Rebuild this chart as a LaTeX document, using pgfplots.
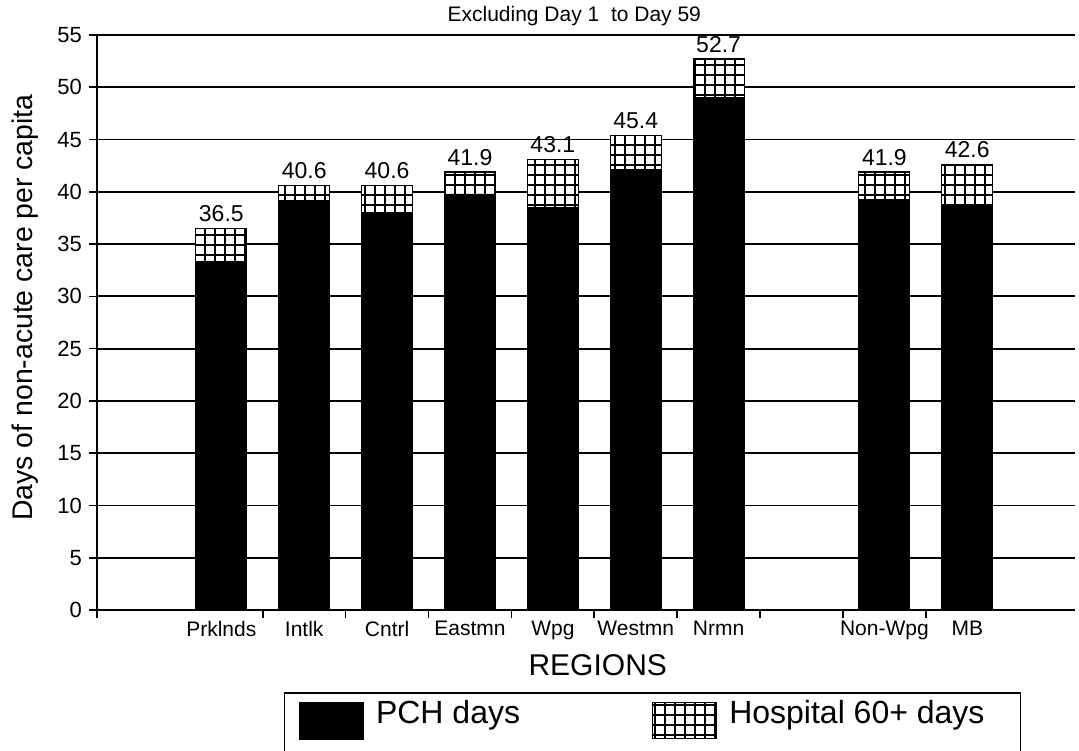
\documentclass[border=0pt]{standalone}
\usepackage{pgfplots}
\pgfplotsset{compat=1.18}
\usepackage{fontspec}
\setmainfont{Liberation Sans}
\usetikzlibrary{patterns}
\pgfdeclarepatternformonly{biggrid}{\pgfqpoint{-0.5pt}{-0.5pt}}{\pgfqpoint{5.5pt}{5.5pt}}{\pgfqpoint{5pt}{5pt}}{%
  \pgfsetlinewidth{0.8pt}%
  \pgfpathmoveto{\pgfqpoint{0pt}{2.5pt}}\pgfpathlineto{\pgfqpoint{5pt}{2.5pt}}%
  \pgfpathmoveto{\pgfqpoint{2.5pt}{0pt}}\pgfpathlineto{\pgfqpoint{2.5pt}{5pt}}%
  \pgfusepath{stroke}}
\pgfplotsset{boxlegend/.style={legend image code/.code={\draw[##1] (0pt,-12.5pt) rectangle (32pt,5.5pt);\path (0pt,-24pt) -- (36pt,-24pt);}}}
\begin{document}
\begin{tikzpicture}
\begin{axis}[
  name=ax,
  scale only axis,
  width=489pt, height=287.5pt,
  xmin=-0.5, xmax=11.3, ymin=0, ymax=55,
  ybar, bar width=25.5pt, bar shift=0pt,
  axis lines=left,
  axis line style={-, line width=1pt},
  ytick={0,5,10,15,20,25,30,35,40,45,50,55},
  ymajorgrids,
  grid style={black, line width=0.9pt},
  tick style={black, line width=0.8pt},
  tick align=outside,
  major tick length=4pt,
  xtick={-0.5,1.5,2.5,3.5,4.5,5.5,6.5,7.5,8.5,9.5},
  xticklabels={},
  extra x ticks={1,2,3,4,5,6,7,9,10},
  extra x tick labels={Prklnds,Intlk,Cntrl,Eastmn,Wpg,Westmn,Nrmn,Non-Wpg,MB},
  extra x tick style={major tick length=0pt, grid=none},
  xticklabel style={font=\fontsize{10.5}{12}\selectfont, yshift=-2pt},
  yticklabel style={font=\fontsize{11}{12}\selectfont},
  /pgf/number format/assume math mode=true,
  xlabel={REGIONS},
  xlabel style={font=\fontsize{15}{17}\selectfont, at={(axis description cs:0.512,0)}, anchor=center, yshift=-27.5pt},
  ylabel={Days of non-acute care per capita},
  ylabel style={font=\fontsize{14.2}{16}\selectfont, at={(axis description cs:-0.0736,0.526)}, anchor=center},
  title={Excluding Day 1\ \ to Day 59},
  title style={font=\fontsize{10.5}{12}\selectfont, at={(axis description cs:0.488,1)}, anchor=south, yshift=-5pt},
  boxlegend,
  legend columns=2,
  reverse legend,
  legend style={at={(axis description cs:0.191,-0.1426)}, anchor=north west,
    font=\fontsize{16}{19}\selectfont, draw=black, line width=0.75pt,
    inner xsep=7pt, inner ysep=2pt,
    /tikz/every even column/.append style={column sep=64pt}},
]
% total (PCH + Hospital 60+ days)
\addplot[draw=black, line width=0.6pt, preaction={fill=white}, pattern=biggrid,
  nodes near coords,
  nodes near coords style={font=\fontsize{11.5}{13}\selectfont, text=black, anchor=south, inner sep=3pt,
    /pgf/number format/fixed, /pgf/number format/precision=1, /pgf/number format/fixed zerofill}]
  coordinates {(1,36.5) (2,40.6) (3,40.6) (4,41.9) (5,43.1) (6,45.4) (7,52.7) (9,41.9) (10,42.6)};
\addlegendentry{Hospital 60+ days\hspace*{9pt}}
% PCH days
\addplot[fill=black, draw=black]
  coordinates {(1,33.3) (2,39.2) (3,38.0) (4,39.8) (5,38.5) (6,42.1) (7,49.0) (9,39.3) (10,38.8)};
\addlegendentry{PCH days}
\end{axis}
\pgfresetboundingbox
\path ([xshift=-48.5pt,yshift=17.5pt]ax.north west) rectangle ([xshift=2pt,yshift=-70pt]ax.south east);
\end{tikzpicture}
\end{document}
